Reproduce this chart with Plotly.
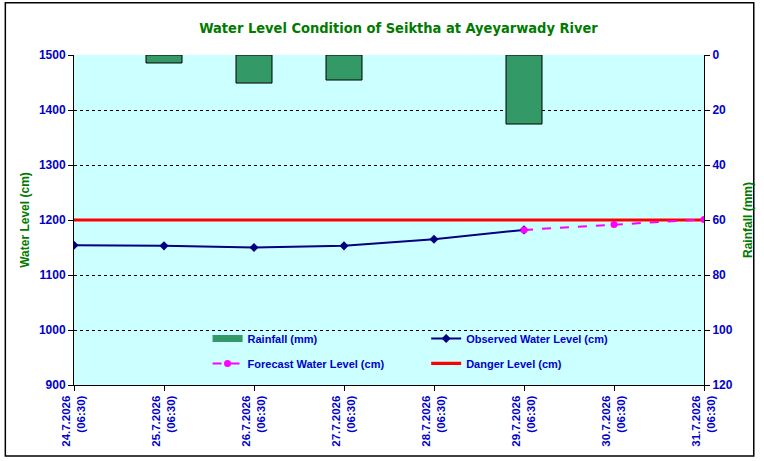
import plotly.graph_objects as go

# category labels (date + time)
dates = ["24.7.2026", "25.7.2026", "26.7.2026", "27.7.2026",
         "28.7.2026", "29.7.2026", "30.7.2026", "31.7.2026"]
times = ["(06:30)"] * 8
labels = [d + "<br>" + t for d, t in zip(dates, times)]

rainfall = [None, 2.9, 10.2, 9.1, None, 25.1, None, None]
observed = [1154, 1153, 1150, 1153, 1165, 1182, None, None]
forecast = [None, None, None, None, None, 1182, 1192, 1201]
danger = [1200] * 8

BLUE = "#0000CC"
GREEN = "#007A00"
FONT = "Liberation Sans"

fig = go.Figure()

fig.add_trace(go.Bar(
    x=labels, y=rainfall, name="Rainfall (mm)", yaxis="y2",
    width=0.4, marker=dict(color="#339966", line=dict(color="black", width=1)),
    showlegend=False))
# legend-only stand-in so the rainfall key is a wide block like the original
fig.add_trace(go.Scatter(
    x=[None], y=[None], name="<b>Rainfall (mm)</b>", mode="lines",
    line=dict(color="#339966", width=7),
    legend="legend", legendgroup="a", legendrank=1))
fig.add_trace(go.Scatter(
    x=labels, y=danger, name="<b>Danger Level (cm)</b>", mode="lines",
    line=dict(color="#FF0000", width=3.2),
    legend="legend2", legendgroup="d", legendrank=2))
fig.add_trace(go.Scatter(
    x=labels, y=observed, name="<b>Observed Water Level (cm)</b>", mode="lines+markers",
    line=dict(color="#000080", width=2),
    marker=dict(symbol="diamond", size=7, color="#000080"),
    legend="legend2", legendgroup="c", legendrank=1))
fig.add_trace(go.Scatter(
    x=labels, y=forecast, name="<b>Forecast Water Level (cm)</b>", mode="lines+markers",
    line=dict(color="#FF00FF", width=2, dash="dash"),
    marker=dict(symbol="circle", size=7, color="#FF00FF"),
    legend="legend", legendgroup="b", legendrank=2))

# outer chart border
fig.add_shape(type="rect", xref="paper", yref="paper",
              x0=-0.109, x1=1.079, y0=-0.215, y1=1.158,
              line=dict(color="black", width=1.5), layer="below")

tickfont = dict(family=FONT, size=12, color=BLUE)
legfont = dict(family=FONT, size=11, color=BLUE)

fig.update_layout(
    width=764, height=461,
    margin=dict(l=74, r=57, t=55, b=76),
    paper_bgcolor="white",
    plot_bgcolor="#CCFFFF",
    title=dict(text="<b>Water Level Condition of Seiktha at Ayeyarwady River</b>",
               x=0.515, xref="paper", xanchor="center",
               y=0.939, yref="container", yanchor="middle",
               font=dict(family="Liberation Sans Narrow, DejaVu Sans Condensed, Liberation Sans",
                         size=14.5, color=GREEN)),
    xaxis=dict(type="category", range=[0, 7], tickangle=-90,
               tickfont=dict(family=FONT, size=11.5, color=BLUE),
               showgrid=False, showline=True, linecolor="black", linewidth=1,
               ticks="outside", ticklen=5, tickcolor="black",
               tickvals=labels, ticktext=["<b>" + l + "</b>" for l in labels]),
    yaxis=dict(range=[900, 1500], dtick=100, tickfont=tickfont,
               title=dict(text="<b>Water Level (cm)</b>",
                          font=dict(family=FONT, size=12, color=GREEN), standoff=6),
               showgrid=True, gridcolor="black", griddash="dot", gridwidth=1,
               showline=True, linecolor="black", linewidth=1,
               ticks="outside", ticklen=5, tickcolor="black",
               tickprefix="<b>", ticksuffix="</b>", zeroline=False),
    yaxis2=dict(range=[120, 0], dtick=20, overlaying="y", side="right",
                tickfont=tickfont,
                title=dict(text="<b>Rainfall (mm)</b>",
                           font=dict(family=FONT, size=12, color=GREEN), standoff=11),
                showgrid=False, showline=True, linecolor="black", linewidth=1,
                ticks="outside", ticklen=5, tickcolor="black",
                tickprefix="<b>", ticksuffix="</b>", zeroline=False),
    legend=dict(x=0.212, y=0.185, xanchor="left", yanchor="top",
                bgcolor="rgba(0,0,0,0)", font=legfont,
                traceorder="grouped", tracegroupgap=6, itemwidth=30),
    legend2=dict(x=0.559, y=0.185, xanchor="left", yanchor="top",
                 bgcolor="rgba(0,0,0,0)", font=legfont,
                 traceorder="grouped", tracegroupgap=6, itemwidth=30),
)

fig.write_html("out.html", config={"displayModeBar": False},
               post_script="document.body.style.margin='0';")
